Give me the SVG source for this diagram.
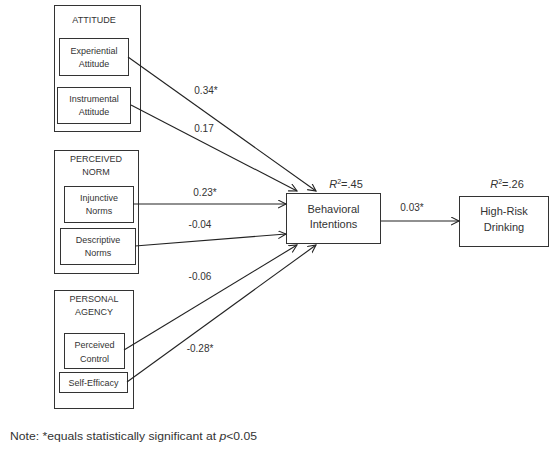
<svg xmlns="http://www.w3.org/2000/svg" width="554" height="459" viewBox="0 0 554 459">
<defs>
<style>
.box{fill:#fff;stroke:#333;stroke-width:1}
.t{font-family:"Liberation Sans",Arial,sans-serif;fill:#333;text-anchor:middle}
.s9{font-size:9px}
.s10{font-size:10px}
.s11{font-size:11px}
.c{stroke:#222;stroke-width:1.1;fill:none}
</style>
<marker id="ah" markerUnits="userSpaceOnUse" markerWidth="10" markerHeight="10" refX="8" refY="4" orient="auto">
<path d="M0,0 L8,4 L0,8" fill="none" stroke="#222" stroke-width="1.1"/>
</marker>
</defs>
<rect width="554" height="459" fill="#fff"/>
<g id="attitude">
<rect class="box" x="54.5" y="5.5" width="86" height="126"/>
<text class="t s9" x="94" y="23">ATTITUDE</text>
</g>
<g id="experiential">
<rect class="box" x="59.5" y="38.5" width="69" height="37"/>
<text class="t s9" x="94" y="54">Experiential</text>
<text class="t s9" x="94" y="67">Attitude</text>
</g>
<g id="instrumental">
<rect class="box" x="57.5" y="87.5" width="73" height="36"/>
<text class="t s9" x="94" y="102">Instrumental</text>
<text class="t s9" x="94" y="115">Attitude</text>
</g>
<g id="perceived-norm">
<rect class="box" x="54.5" y="150.5" width="84" height="123"/>
<text class="t s9" x="96" y="162">PERCEIVED</text>
<text class="t s9" x="96" y="175">NORM</text>
</g>
<g id="injunctive">
<rect class="box" x="64.5" y="186.5" width="69" height="36"/>
<text class="t s9" x="99" y="201">Injunctive</text>
<text class="t s9" x="99" y="214">Norms</text>
</g>
<g id="descriptive">
<rect class="box" x="60.5" y="228.5" width="75" height="36"/>
<text class="t s9" x="98" y="243">Descriptive</text>
<text class="t s9" x="98" y="256">Norms</text>
</g>
<g id="personal-agency">
<rect class="box" x="54.5" y="290.5" width="79" height="118"/>
<text class="t s9" x="94" y="302">PERSONAL</text>
<text class="t s9" x="94" y="315">AGENCY</text>
</g>
<g id="perceived-control">
<rect class="box" x="64.5" y="333.5" width="60" height="35"/>
<text class="t s9" x="94.5" y="348">Perceived</text>
<text class="t s9" x="94.5" y="362">Control</text>
</g>
<g id="self-efficacy">
<rect class="box" x="59.5" y="372.5" width="68" height="20"/>
<text class="t s9" x="93.5" y="386">Self-Efficacy</text>
</g>
<g id="behavioral-intentions">
<rect class="box" x="286.5" y="193.5" width="94" height="50"/>
<text class="t s11" x="333.5" y="213">Behavioral</text>
<text class="t s11" x="333.5" y="228">Intentions</text>
<text class="t s11" x="346" y="188"><tspan font-style="italic">R</tspan><tspan font-size="7" dy="-4">2</tspan><tspan dy="4">=.45</tspan></text>
</g>
<g id="high-risk-drinking">
<rect class="box" x="459.5" y="196.5" width="89" height="50"/>
<text class="t s11" x="504" y="215">High-Risk</text>
<text class="t s11" x="504" y="231">Drinking</text>
<text class="t s11" x="507" y="188"><tspan font-style="italic">R</tspan><tspan font-size="7" dy="-4">2</tspan><tspan dy="4">=.26</tspan></text>
</g>
<g id="connectors">
<line class="c" x1="128" y1="57" x2="316" y2="191" marker-end="url(#ah)"/>
<line class="c" x1="131" y1="105" x2="297" y2="191" marker-end="url(#ah)"/>
<line class="c" x1="133" y1="204" x2="286" y2="204" marker-end="url(#ah)"/>
<line class="c" x1="135" y1="246" x2="286" y2="234" marker-end="url(#ah)"/>
<line class="c" x1="124" y1="350" x2="297" y2="245" marker-end="url(#ah)"/>
<line class="c" x1="127" y1="382" x2="316" y2="245" marker-end="url(#ah)"/>
<line class="c" x1="381" y1="221" x2="459" y2="221" marker-end="url(#ah)"/>
<text class="t s10" x="206" y="94">0.34*</text>
<text class="t s10" x="204" y="132">0.17</text>
<text class="t s10" x="205" y="196">0.23*</text>
<text class="t s10" x="200" y="228">-0.04</text>
<text class="t s10" x="200" y="280">-0.06</text>
<text class="t s10" x="200" y="352">-0.28*</text>
<text class="t s10" x="412" y="211">0.03*</text>
</g>
<text class="t" x="10" y="440" style="text-anchor:start;font-size:11px" textLength="247" lengthAdjust="spacingAndGlyphs">Note: *equals statistically significant at <tspan font-style="italic">p</tspan>&lt;0.05</text>
</svg>
